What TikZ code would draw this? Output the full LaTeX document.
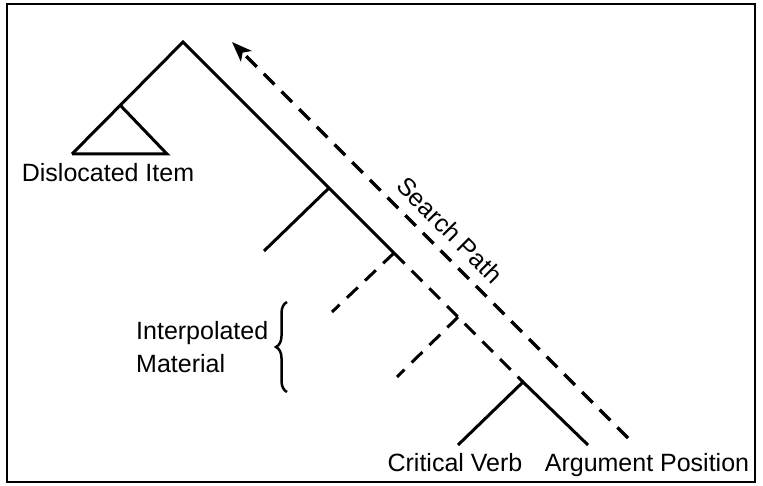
\documentclass[tikz,border=0pt]{standalone}
\usepackage{fontspec}
\setmainfont{Liberation Sans}
\usetikzlibrary{arrows.meta,decorations.pathreplacing}
\begin{document}
\begin{tikzpicture}[x=1pt,y=-1pt,
  branch/.style={line width=3pt},
  dbranch/.style={line width=3pt, dash pattern=on 15pt off 10pt},
  search/.style={line width=3.5pt, dash pattern=on 15pt off 10pt, -{Stealth[length=20pt,width=15pt,inset=5pt]}},
  lbl/.style={font=\fontsize{25}{31}\selectfont, inner sep=0pt, anchor=base},
  frame/.style={line width=2.5pt}]
\useasboundingbox (0,0) rectangle (763,486);
\draw[frame] (7,4) rectangle (755,482);
% tree points
\coordinate (root) at (183,42);
\coordinate (tri) at (120,105);
\coordinate (tl) at (72,154);
\coordinate (tr) at (167,154);
\coordinate (n1) at (329,188);
\coordinate (n1l) at (264,251);
\coordinate (n2) at (394,253);
\coordinate (n2l) at (332,312);
\coordinate (n3) at (458,317);
\coordinate (n3l) at (397,377);
\coordinate (n4) at (523,382);
\coordinate (cvb) at (458,445);
\coordinate (apb) at (588,445);
\coordinate (ss) at (628,438);
\coordinate (se) at (232,42);
% solid branches
\draw[branch] (tl) -- (root) -- (n2);
\draw[branch] (tl) -- (tr) -- (tri);
\draw[branch] (n1) -- (n1l);
\draw[branch, line join=miter] (cvb) -- (n4) -- (apb);
% dashed
\draw[dbranch] (n2) -- (n4);
\draw[dbranch] (n2) -- (n2l);
\draw[dbranch] (n3) -- (n3l);
% search path
\draw[search] (ss) -- (se);
\node[lbl, anchor=center, rotate=-45] (sp) at (450,230) {Search Path};
% labels
\node[lbl] (di) at (108,182) {Dislocated Item};
\node[lbl] (cv) at (455,471) {Critical Verb};
\node[lbl] (ap) at (647,471) {Argument Position};
\node[lbl, anchor=base west] (im1) at (136,340) {Interpolated};
\node[lbl, anchor=base west] (im2) at (136,372) {Material};
\draw[line width=2.5pt, decorate, decoration={brace, amplitude=11pt}] (287,392) -- (287,302);
\end{tikzpicture}
\end{document}
